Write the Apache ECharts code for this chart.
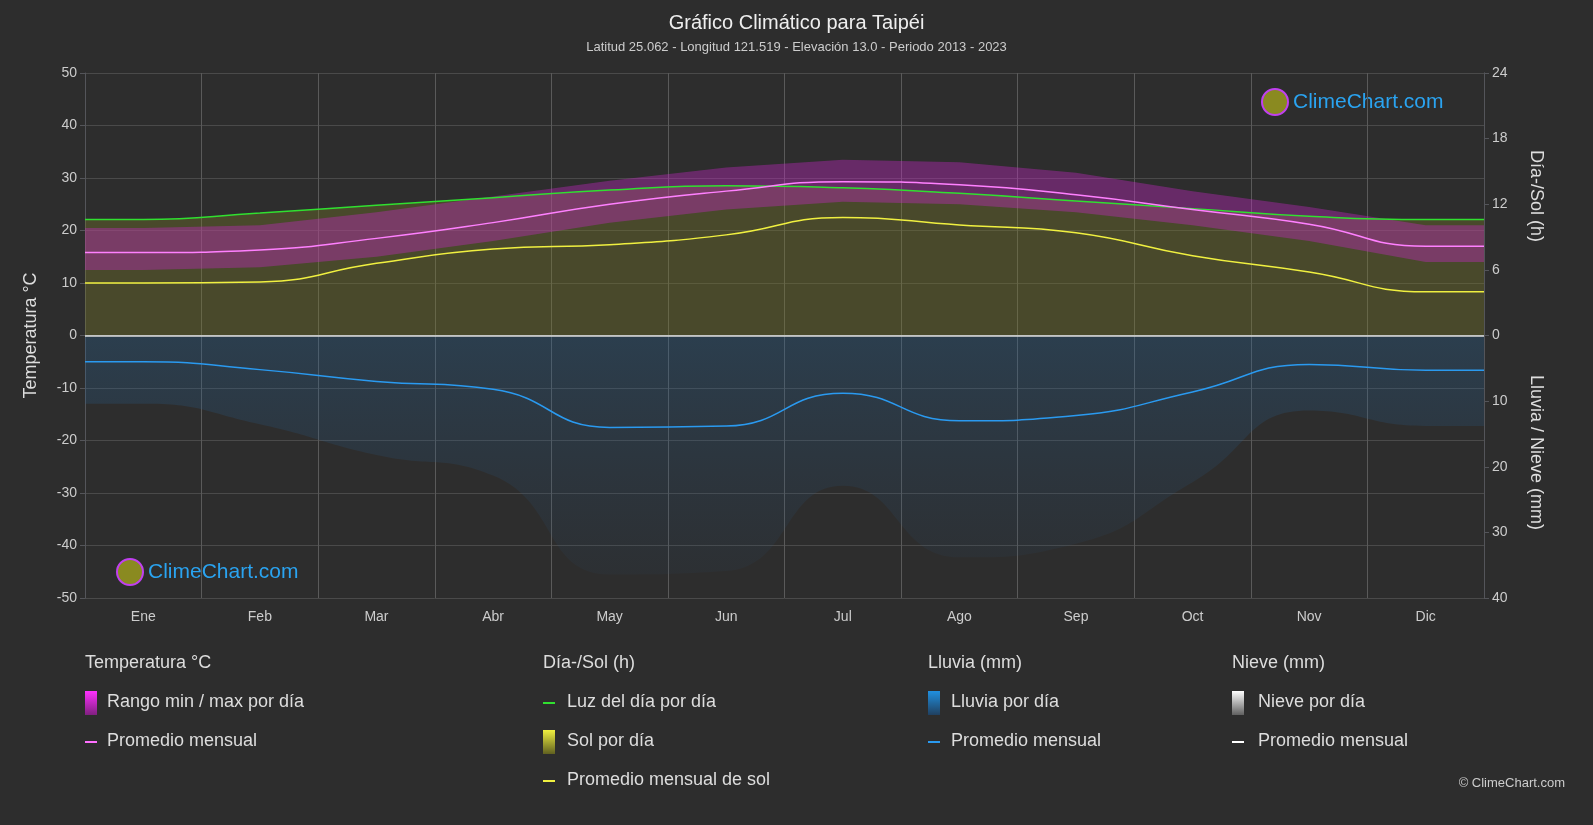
<!DOCTYPE html>
<html><head><meta charset="utf-8">
<script src="https://cdn.jsdelivr.net/npm/echarts@6/dist/echarts.min.js"></script>
<style>html,body{margin:0;background:#2d2d2d}#c{width:1593px;height:825px}</style>
</head><body><div id="c"></div>
<script>
const MONTHS = ['Ene', 'Feb', 'Mar', 'Abr', 'May', 'Jun', 'Jul', 'Ago', 'Sep', 'Oct', 'Nov', 'Dic']
// monthly averages
const tempMean = [15.8, 16.3, 18.5, 21.5, 25.0, 27.5, 29.3, 28.7, 26.8, 24.0, 21.2, 17.0]
const tempMax = [20.5, 21.0, 23.5, 26.5, 29.5, 32.0, 33.5, 33.0, 31.0, 27.5, 24.5, 21.0]
const tempMin = [12.5, 13.0, 15.0, 18.0, 21.5, 24.0, 25.5, 25.0, 23.5, 21.0, 18.0, 14.0]
const daylightH = [10.6, 11.2, 11.9, 12.6, 13.3, 13.7, 13.5, 13.0, 12.3, 11.6, 10.9, 10.6]
const sunH = [4.8, 4.9, 6.6, 7.9, 8.3, 9.2, 10.8, 10.1, 9.4, 7.3, 5.8, 4.0]
const rainMm = [4.0, 5.2, 7.0, 8.2, 14.0, 13.8, 8.8, 13.0, 12.2, 8.6, 4.4, 5.3]

// points at month centres, padded to the edges
const pts = arr => [[0, arr[0]]].concat(arr.map((v, i) => [i + 0.5, v]), [[12, arr[11]]])
const bandRows = pts(tempMin).map((p, i) => [p[0], p[1], pts(tempMax)[i][1]])

const chart = echarts.init(document.getElementById('c'))
const font = 'Arial, "Liberation Sans", sans-serif'
const legendText = (x, y, t, size) => ({ type: 'text', left: x, top: y, style: { text: t, fill: '#ddd', font: (size || 18) + 'px ' + font } })
const legendLine = (x, y, c) => ({ type: 'rect', left: x, top: y, shape: { width: 12, height: 2 }, style: { fill: c } })
const legendBox = (x, y, c1, c2) => ({ type: 'rect', left: x, top: y, shape: { width: 12, height: 24 },
  style: { fill: new echarts.graphic.LinearGradient(0, 0, 0, 1, [{ offset: 0, color: c1 }, { offset: 1, color: c2 }]) } })

chart.setOption({
  backgroundColor: '#2d2d2d',
  animation: false,
  title: {
    text: 'Gráfico Climático para Taipéi',
    subtext: 'Latitud 25.062 - Longitud 121.519 - Elevación 13.0 - Periodo 2013 - 2023',
    left: 'center', top: 8, itemGap: 8,
    textStyle: { color: '#eee', fontSize: 20, fontWeight: 'normal', fontFamily: font },
    subtextStyle: { color: '#ccc', fontSize: 13, fontFamily: font }
  },
  grid: { left: 85, right: 109, top: 73, bottom: 227 },
  xAxis: [
    { type: 'category', data: MONTHS, boundaryGap: true,
      axisLine: { lineStyle: { color: '#888' } }, axisTick: { show: false },
      axisLabel: { color: '#ccc', fontSize: 14, margin: 12 },
      splitLine: { show: true, interval: 0, lineStyle: { color: '#5a5a5a' } } },
    { type: 'value', min: 0, max: 12, show: false }
  ],
  yAxis: [
    { type: 'value', min: -50, max: 50, interval: 10, name: 'Temperatura °C', nameLocation: 'middle', nameGap: 45,
      nameTextStyle: { color: '#ddd', fontSize: 18 },
      axisLabel: { color: '#ccc', fontSize: 14 }, splitLine: { lineStyle: { color: '#4a4a4a' } } },
    { type: 'value', min: -24, max: 24, interval: 6, position: 'right',
      axisLabel: { color: '#ccc', fontSize: 14, formatter: v => v >= 0 ? v : '' }, splitLine: { show: false } },
    { type: 'value', min: -40, max: 40, interval: 10, position: 'right',
      axisLabel: { color: '#ccc', fontSize: 14, formatter: v => v < 0 ? -v : '' }, splitLine: { show: false } }
  ],
  graphic: [
    { type: 'text', left: 1527, top: 150, rotation: -Math.PI / 2, style: { text: 'Día-/Sol (h)', fill: '#ddd', font: '18px ' + font } },
    { type: 'text', left: 1527, top: 375, rotation: -Math.PI / 2, style: { text: 'Lluvia / Nieve (mm)', fill: '#ddd', font: '18px ' + font } },
    { type: 'text', left: 1293, top: 92, style: { text: 'ClimeChart.com', fill: '#2aa3f0', font: '21px ' + font } },
    { type: 'text', left: 148, top: 562, style: { text: 'ClimeChart.com', fill: '#2aa3f0', font: '21px ' + font } },
    { type: 'circle', shape: { cx: 1275, cy: 102, r: 13 }, style: { fill: '#8a8a20', stroke: '#c040f0', lineWidth: 2 } },
    { type: 'circle', shape: { cx: 130, cy: 572, r: 13 }, style: { fill: '#8a8a20', stroke: '#c040f0', lineWidth: 2 } },
    { type: 'text', right: 28, top: 777, style: { text: '© ClimeChart.com', fill: '#ccc', font: '13px ' + font } },
    legendText(85, 654, 'Temperatura °C'),
    legendBox(85, 691, '#ff30ff', '#802080'), legendText(107, 693, 'Rango min / max por día'),
    legendLine(85, 741, '#ff70ff'), legendText(107, 732, 'Promedio mensual'),
    legendText(543, 654, 'Día-/Sol (h)'),
    legendLine(543, 702, '#30e030'), legendText(567, 693, 'Luz del día por día'),
    legendBox(543, 730, '#f0f040', '#606020'), legendText(567, 732, 'Sol por día'),
    legendLine(543, 780, '#f0f040'), legendText(567, 771, 'Promedio mensual de sol'),
    legendText(928, 654, 'Lluvia (mm)'),
    legendBox(928, 691, '#2090e0', '#204060'), legendText(951, 693, 'Lluvia por día'),
    legendLine(928, 741, '#2a9af0'), legendText(951, 732, 'Promedio mensual'),
    legendText(1232, 654, 'Nieve (mm)'),
    legendBox(1232, 691, '#ffffff', '#606060'), legendText(1258, 693, 'Nieve por día'),
    legendLine(1232, 741, '#ffffff'), legendText(1258, 732, 'Promedio mensual')
  ],
  series: [
    { type: 'line', xAxisIndex: 1, yAxisIndex: 1, data: pts(daylightH), smooth: true, showSymbol: false,
      lineStyle: { width: 0 }, areaStyle: { color: 'rgba(125,125,40,0.5)' }, z: 1 },
    { type: 'line', xAxisIndex: 1, yAxisIndex: 2, data: pts(rainMm.map(v => -v * 2.6)), smooth: true, showSymbol: false,
      lineStyle: { width: 0 },
      areaStyle: { color: new echarts.graphic.LinearGradient(0, 0, 0, 1, [{ offset: 0, color: 'rgba(40,100,150,0.45)' }, { offset: 1, color: 'rgba(40,80,120,0.12)' }]) }, z: 1 },
    { type: 'custom', xAxisIndex: 1, yAxisIndex: 0, data: bandRows, z: 2,
      renderItem: (params, api) => {
        if (params.dataIndex !== 0) return null
        const top = bandRows.map(r => api.coord([r[0], r[2]]))
        const bot = bandRows.map(r => api.coord([r[0], r[1]])).reverse()
        return { type: 'polygon', shape: { points: top.concat(bot) },
          style: { fill: 'rgba(200,40,200,0.38)' } }
      } },
    { type: 'line', xAxisIndex: 1, yAxisIndex: 1, data: pts(daylightH), smooth: true, showSymbol: false,
      lineStyle: { color: '#30e030', width: 1.5 }, z: 5 },
    { type: 'line', xAxisIndex: 1, yAxisIndex: 1, data: pts(sunH), smooth: true, showSymbol: false,
      lineStyle: { color: '#f0f040', width: 1.5 }, z: 5 },
    { type: 'line', xAxisIndex: 1, yAxisIndex: 0, data: pts(tempMean), smooth: true, showSymbol: false,
      lineStyle: { color: '#ff80ff', width: 1.5 }, z: 5 },
    { type: 'line', xAxisIndex: 1, yAxisIndex: 2, data: pts(rainMm.map(v => -v)), smooth: true, showSymbol: false,
      lineStyle: { color: '#2a9af0', width: 1.5 }, z: 5,
      markLine: { silent: true, symbol: 'none', label: { show: false }, lineStyle: { color: '#ddd', type: 'solid', width: 1.5 }, data: [{ yAxis: 0 }] } }
  ]
})
</script>
</body></html>
